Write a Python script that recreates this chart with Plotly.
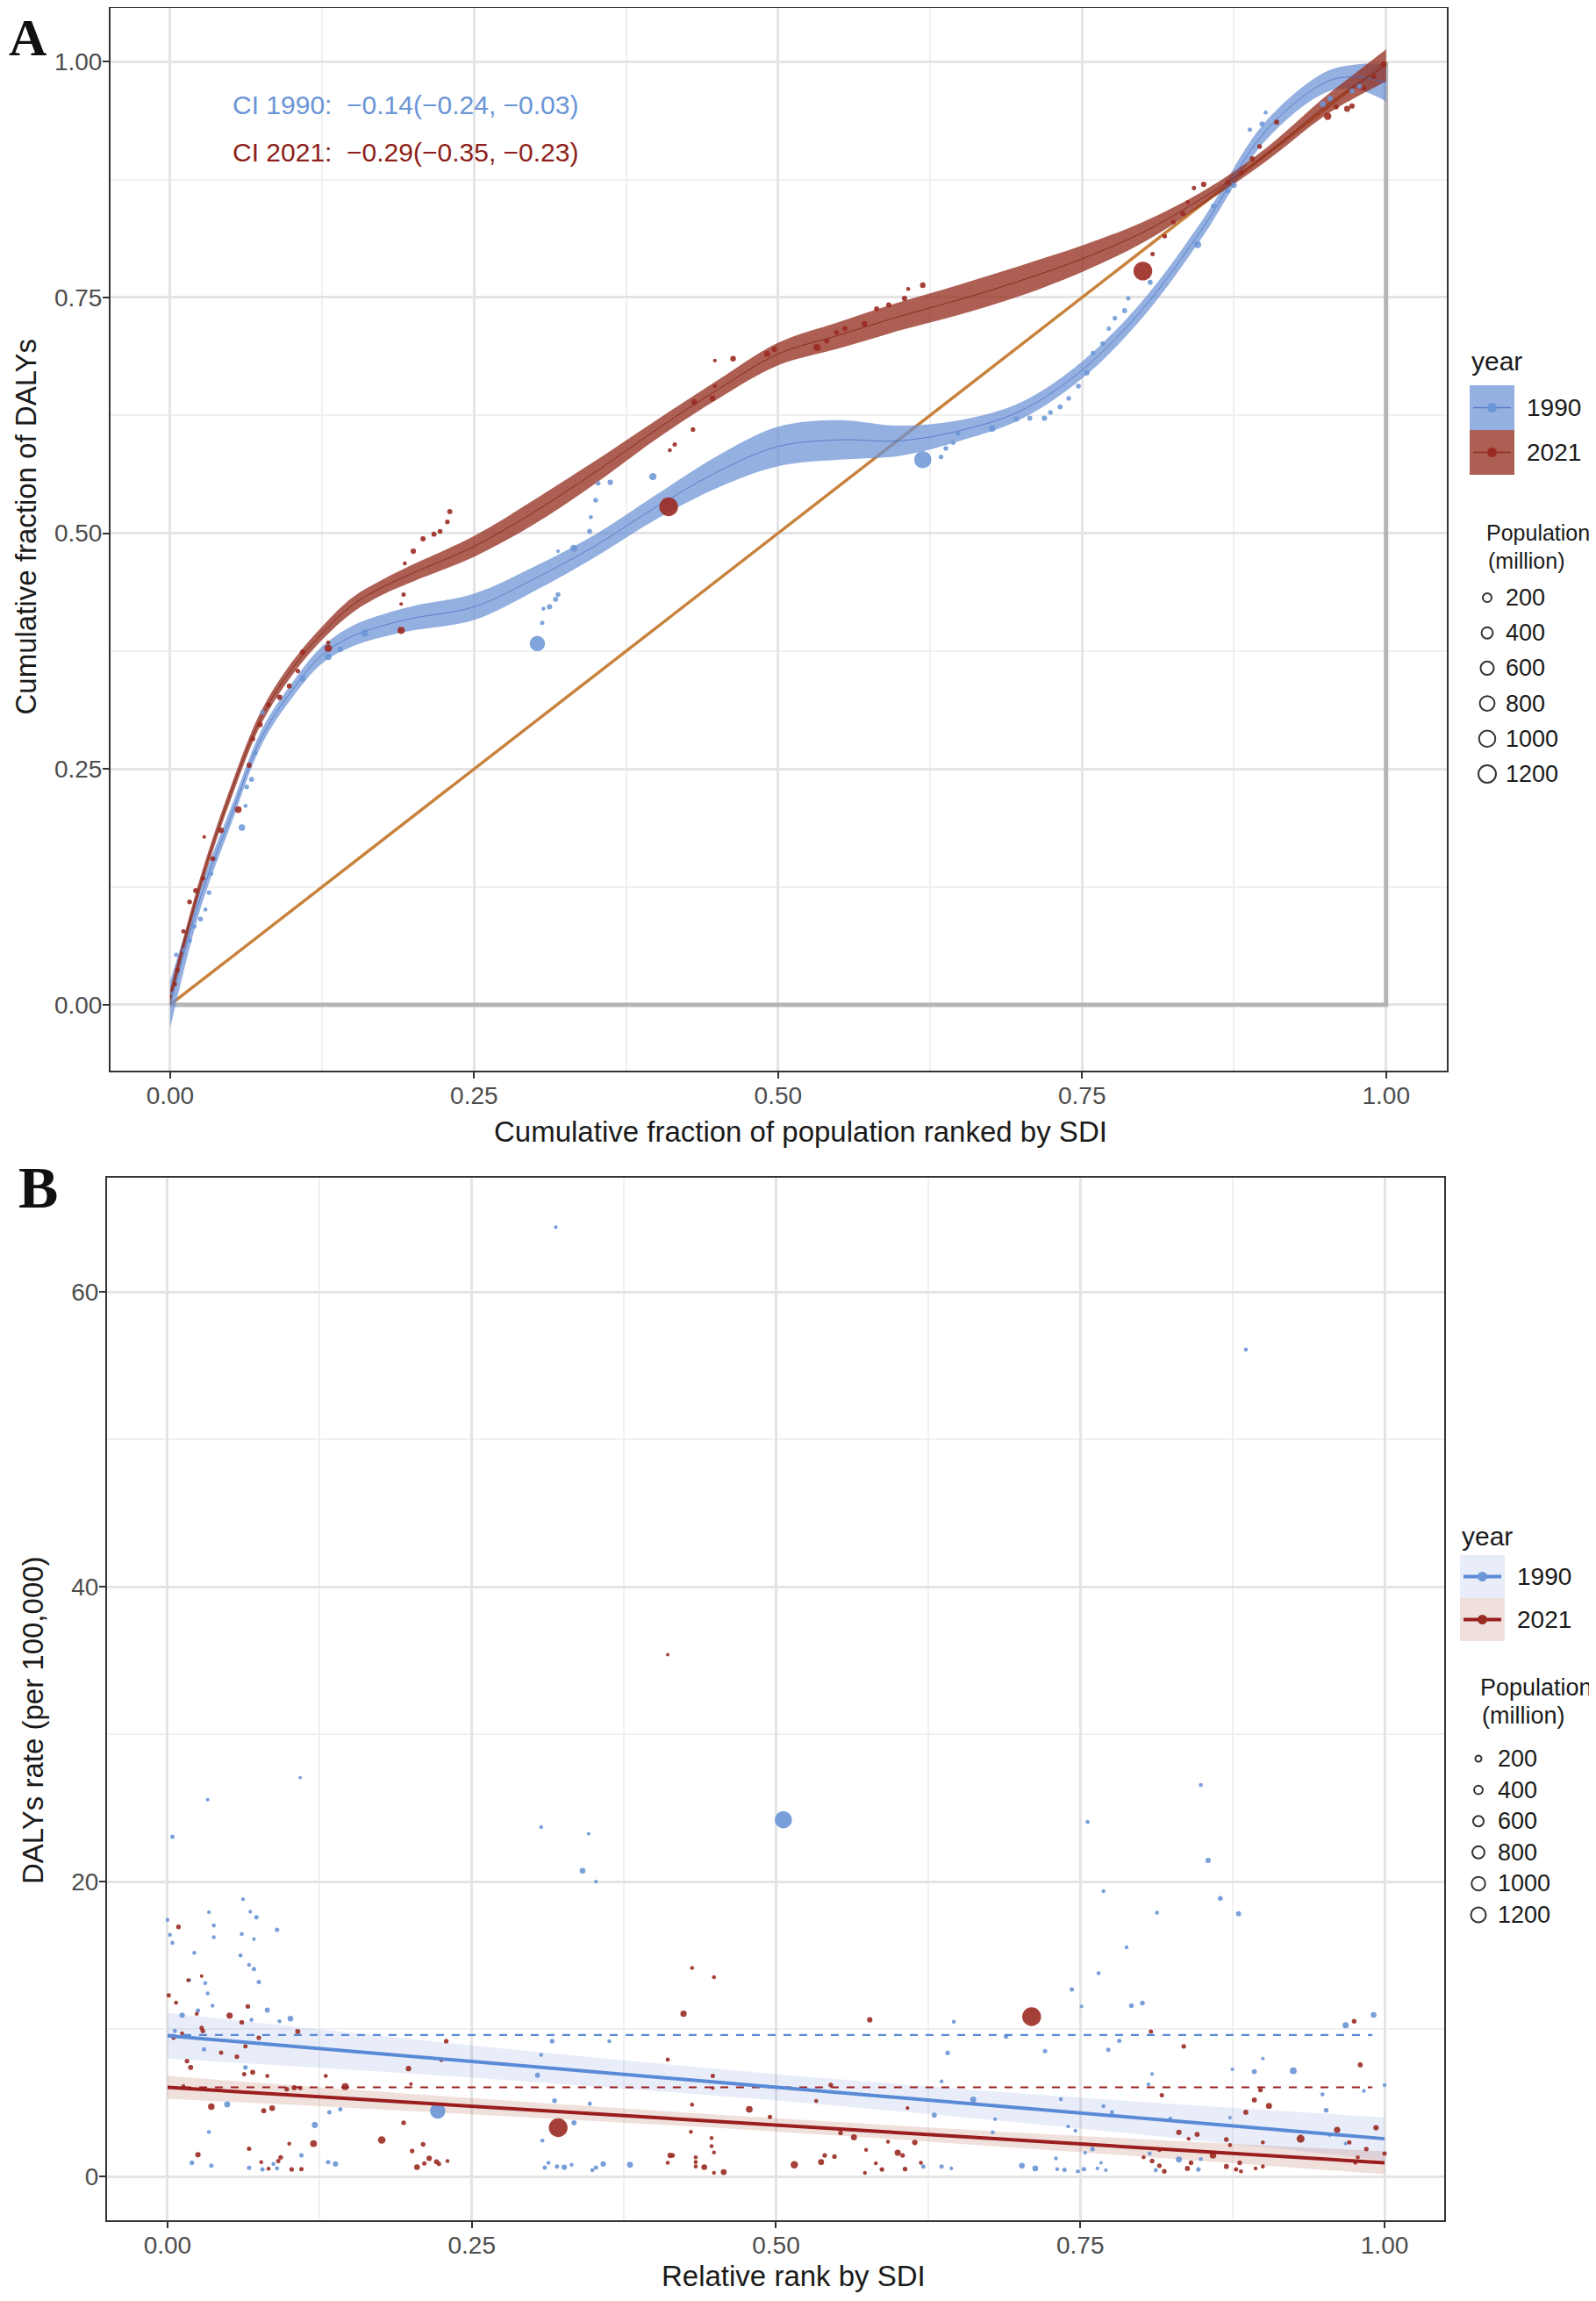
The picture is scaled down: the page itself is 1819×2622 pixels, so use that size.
import numpy as np
import plotly.graph_objects as go

W, H = 1819, 2622
OFF = 8  # page margin around the plot div
FW, FH = W - OFF, H - 2 * OFF

# ---------------- panel A: concentration curves ----------------
curve_x = [0, 0.025, 0.05, 0.075, 0.1, 0.125, 0.15, 0.175, 0.2, 0.25, 0.3, 0.35, 0.4,
           0.45, 0.5, 0.55, 0.6, 0.65, 0.7, 0.75, 0.8, 0.85, 0.9, 0.95, 0.975, 1.0]
fit_1990 = [0.0, 0.114, 0.20, 0.283, 0.333, 0.371, 0.391, 0.402, 0.41, 0.422, 0.452, 0.487, 0.528,
            0.565, 0.592, 0.599, 0.598, 0.609, 0.63, 0.673, 0.738, 0.825, 0.925, 0.978, 0.984, 0.978]
band_1990 = [0.025, 0.012, 0.009, 0.008, 0.008, 0.009, 0.011, 0.012, 0.013, 0.014, 0.013, 0.012, 0.013,
             0.017, 0.021, 0.021, 0.016, 0.011, 0.009, 0.009, 0.009, 0.009, 0.01, 0.011, 0.013, 0.02]
fit_2021 = [0.008, 0.129, 0.225, 0.305, 0.356, 0.394, 0.424, 0.443, 0.458, 0.486, 0.523, 0.565, 0.61,
            0.652, 0.69, 0.71, 0.73, 0.748, 0.768, 0.791, 0.819, 0.856, 0.9, 0.953, 0.975, 0.996]
band_2021 = [0.008, 0.007, 0.007, 0.007, 0.007, 0.007, 0.008, 0.008, 0.009, 0.011, 0.013, 0.012, 0.01,
             0.01, 0.012, 0.014, 0.015, 0.016, 0.016, 0.014, 0.011, 0.007, 0.007, 0.01, 0.013, 0.017]

equality_x = [0, 1]
equality_y = [0, 1]
frame_x = [0, 1, 1]
frame_y = [0, 0, 1]

a1990_x = [0.002, 0.005, 0.011, 0.016, 0.02, 0.025, 0.029, 0.032, 0.034, 0.037, 0.059, 0.062, 0.063,
           0.067, 0.07, 0.076, 0.109, 0.13, 0.14, 0.16, 0.302, 0.306, 0.307, 0.312, 0.317, 0.319,
           0.319, 0.332, 0.345, 0.346, 0.35, 0.352, 0.362, 0.397, 0.619, 0.634, 0.638, 0.644, 0.648,
           0.676, 0.696, 0.707, 0.719, 0.724, 0.732, 0.739, 0.747, 0.754, 0.759, 0.767, 0.772, 0.777,
           0.785, 0.788, 0.806, 0.845, 0.858, 0.87, 0.875, 0.888, 0.898, 0.901, 0.91, 0.948, 0.954,
           0.972, 0.978]
a1990_y = [0.012, 0.053, 0.058, 0.068, 0.083, 0.091, 0.101, 0.119, 0.139, 0.155, 0.188, 0.211, 0.231,
           0.239, 0.267, 0.31, 0.346, 0.369, 0.377, 0.394, 0.383, 0.405, 0.42, 0.422, 0.43, 0.435,
           0.481, 0.484, 0.502, 0.517, 0.535, 0.553, 0.554, 0.56, 0.578, 0.581, 0.59, 0.596, 0.606,
           0.611, 0.621, 0.622, 0.622, 0.628, 0.634, 0.643, 0.656, 0.67, 0.691, 0.701, 0.717, 0.728,
           0.736, 0.749, 0.766, 0.806, 0.847, 0.863, 0.869, 0.928, 0.934, 0.946, 0.936, 0.955, 0.961,
           0.969, 0.974]
a1990_pop = [10, 15, 10, 20, 15, 25, 10, 20, 10, 15, 80, 10, 20, 30, 15, 25, 60, 90, 40, 100, 870, 15,
             10, 35, 30, 25, 5, 100, 30, 10, 25, 20, 40, 120, 1150, 20, 25, 15, 20, 80, 35, 30, 40, 25,
             30, 20, 25, 30, 20, 25, 15, 20, 30, 15, 30, 110, 25, 30, 40, 15, 30, 10, 20, 60, 40, 30, 25]

a2021_x = [0.004, 0.006, 0.011, 0.016, 0.021, 0.027, 0.028, 0.035, 0.042, 0.056, 0.065, 0.068, 0.074,
           0.081, 0.09, 0.098, 0.105, 0.109, 0.13, 0.13, 0.19, 0.19, 0.192, 0.193, 0.2, 0.208, 0.217,
           0.222, 0.228, 0.23, 0.41, 0.411, 0.415, 0.43, 0.431, 0.446, 0.448, 0.448, 0.463, 0.491,
           0.497, 0.532, 0.54, 0.548, 0.555, 0.571, 0.581, 0.591, 0.604, 0.607, 0.619, 0.80, 0.808,
           0.818, 0.825, 0.833, 0.837, 0.842, 0.85, 0.87, 0.881, 0.89, 0.896, 0.91, 0.952, 0.959,
           0.968, 0.972, 0.982, 0.99, 0.998]
a2021_y = [0.022, 0.037, 0.078, 0.109, 0.121, 0.134, 0.178, 0.155, 0.185, 0.207, 0.254, 0.282, 0.297,
           0.318, 0.326, 0.338, 0.354, 0.374, 0.378, 0.384, 0.397, 0.425, 0.435, 0.468, 0.481, 0.494,
           0.499, 0.502, 0.512, 0.523, 0.528, 0.588, 0.594, 0.61, 0.639, 0.643, 0.656, 0.683, 0.685,
           0.69, 0.695, 0.697, 0.704, 0.713, 0.717, 0.722, 0.738, 0.742, 0.749, 0.759, 0.763, 0.778,
           0.796, 0.815, 0.83, 0.839, 0.851, 0.866, 0.87, 0.872, 0.882, 0.897, 0.91, 0.936, 0.942,
           0.952, 0.95, 0.953, 0.972, 0.984, 0.997]
a2021_pop = [10, 20, 15, 25, 30, 20, 5, 25, 40, 90, 30, 20, 35, 25, 40, 30, 20, 35, 130, 10, 110, 5, 15,
             10, 40, 35, 30, 25, 20, 30, 1400, 10, 15, 20, 60, 50, 10, 5, 45, 60, 40, 110, 30, 25, 30,
             50, 30, 35, 40, 10, 45, 1410, 15, 20, 25, 30, 10, 15, 40, 30, 25, 35, 20, 30, 120, 30, 60,
             40, 20, 30, 60]

# ---------------- panel B: DALYs rate vs relative SDI rank ----------------
b1990_x = [0.319, 0.886, 0.004, 0.033, 0.109, 0.307, 0.346, 0.341, 0.352, 0.506, 0.849, 0.756, 0.855,
           0.769, 0.865, 0.88, 0.813, 0.788, 0.765, 0.743, 0.751, 0.792, 0.801, 0.646, 0.968, 0.991,
           0.689, 0.782, 0.721, 0.773, 0.641, 0.925, 0.893, 0.9, 0.875, 1.0, 0.983, 0.809, 0.806,
           0.636, 0.949, 0.662, 0.734, 0.952, 0.769, 0.776, 0.63, 0.68, 0.824, 0.873, 0.678, 0.74,
           0.746, 0.76, 0.807, 0.831, 0.849, 0.812, 0.847, 0.955, 0.968, 0.702, 0.713, 0.73, 0.731,
           0.737, 0.748, 0.753, 0.764, 0.771, 0.754, 0.767, 0.621, 0.636, 0.644,
           0.0, 0.002, 0.004, 0.022, 0.034, 0.038, 0.038, 0.062, 0.068, 0.073, 0.061, 0.071, 0.09,
           0.06, 0.067, 0.071, 0.018, 0.031, 0.075, 0.033, 0.037, 0.025, 0.012, 0.082, 0.069, 0.092,
           0.101, 0.006, 0.03, 0.064, 0.316, 0.363, 0.307, 0.304, 0.318, 0.347, 0.049, 0.142, 0.133,
           0.222, 0.121, 0.334, 0.034, 0.308, 0.02, 0.036, 0.067, 0.078, 0.087, 0.09, 0.11, 0.132,
           0.138, 0.31, 0.313, 0.32, 0.326, 0.332, 0.349, 0.352, 0.358, 0.38]
b1990_y = [64.4, 56.1, 23.05, 25.56, 27.06, 23.7, 23.25, 20.74, 20.0, 24.2, 26.56, 24.05, 21.44, 19.36,
           18.86, 17.83, 17.9, 15.55, 13.79, 12.69, 11.54, 11.59, 11.76, 10.5, 10.26, 10.96, 9.5, 9.2,
           8.5, 8.6, 8.38, 7.17, 7.12, 8.0, 7.27, 6.2, 5.8, 6.95, 6.25, 6.45, 5.57, 5.22, 5.24, 4.49,
           4.77, 4.36, 4.16, 3.89, 3.94, 3.99, 3.0, 3.39, 3.11, 1.86, 1.56, 1.15, 1.18, 0.43, 0.48,
           2.81, 2.23, 0.73, 0.55, 1.23, 0.5, 0.45, 0.35, 0.5, 0.55, 0.43, 1.61, 0.93, 0.68, 0.68, 0.55,
           17.4, 16.4, 15.85, 15.17, 17.93, 17.03, 16.23, 18.81, 17.96, 17.58, 16.45, 16.1, 16.73,
           15.0, 14.35, 14.07, 13.32, 13.12, 13.19, 12.42, 11.59, 11.26, 10.94, 11.29, 10.63, 10.53,
           10.71, 9.88, 8.63, 7.4, 9.18, 9.18, 8.25, 6.87, 5.14, 4.94, 4.89, 4.56, 4.36, 4.44, 3.49,
           3.64, 3.01, 2.43, 0.93, 0.73, 0.58, 0.48, 0.85, 0.55, 1.43, 0.98, 0.85, 0.6, 0.93, 0.68,
           0.63, 0.8, 0.43, 0.6, 0.85, 0.8]
b1990_pop = [5, 10, 15, 5, 3, 8, 5, 50, 5, 1150, 8, 10, 35, 8, 25, 30, 10, 8, 10, 15, 5, 25, 25, 10, 70,
             50, 20, 15, 15, 15, 20, 90, 30, 5, 5, 8, 5, 5, 5, 8, 10, 60, 10, 20, 10, 10, 30, 5, 5, 5,
             8, 5, 8, 20, 10, 60, 10, 10, 20, 5, 5, 50, 50, 8, 8, 15, 10, 15, 5, 5, 5, 5, 15, 15, 5,
             8, 8, 10, 8, 5, 10, 8, 5, 5, 15, 10, 5, 15, 10, 8, 15, 5, 10, 15, 8, 8, 15, 40, 30, 10, 8,
             50, 10, 15, 20, 20, 8, 8, 30, 25, 10, 60, 15, 15, 870, 60, 30, 8, 10, 20, 15, 15, 15, 10,
             10, 15, 15, 40, 15, 10, 15, 40, 8, 10, 15, 40, 60]

b2021_x = [0.411, 0.009, 0.001, 0.007, 0.017, 0.028, 0.024, 0.005, 0.012, 0.028, 0.029, 0.051, 0.066,
           0.061, 0.075, 0.064, 0.107, 0.044, 0.057, 0.016, 0.019, 0.07, 0.063, 0.082, 0.13, 0.146,
           0.098, 0.104, 0.109, 0.013, 0.036, 0.086, 0.079, 0.198, 0.225, 0.229, 0.2, 0.194, 0.176,
           0.12, 0.1, 0.21, 0.201, 0.215, 0.221, 0.223, 0.23, 0.205, 0.211, 0.025, 0.067, 0.093, 0.091,
           0.077, 0.083, 0.102, 0.11, 0.321, 0.424, 0.431, 0.449, 0.411, 0.448, 0.448, 0.431, 0.478,
           0.495, 0.43, 0.447, 0.447, 0.449, 0.413, 0.415, 0.411, 0.434, 0.434, 0.441, 0.457, 0.449,
           0.434,
           0.71, 0.577, 0.975, 0.808, 0.835, 0.98, 0.545, 0.898, 0.817, 0.893, 0.905, 0.886, 0.533,
           0.608, 0.961, 0.993, 0.931, 0.831, 0.846, 0.564, 0.553, 0.614, 0.592, 0.87, 0.873, 0.9,
           0.971, 0.985, 1.0, 0.839, 0.815, 0.6, 0.604, 0.574, 0.548, 0.54, 0.537, 0.515, 0.859, 0.802,
           0.809, 0.815, 0.819, 0.838, 0.841, 0.87, 0.878, 0.881, 0.894, 0.9, 0.882, 0.976, 0.587,
           0.573, 0.582, 0.606, 0.619, 0.978]
b2021_y = [35.4, 16.93, 12.29, 11.79, 13.32, 13.59, 11.04, 9.41, 9.71, 10.08, 9.88, 10.91, 11.54, 10.46,
           9.41, 8.83, 9.83, 8.4, 8.13, 7.83, 7.4, 7.07, 6.95, 6.82, 6.82, 6.09, 5.92, 6.02, 6.0, 6.12,
           4.74, 4.64, 4.46, 7.32, 7.9, 9.18, 6.27, 3.64, 2.48, 2.23, 2.23, 2.18, 1.73, 1.23, 1.0, 0.85,
           1.05, 0.63, 0.88, 1.48, 1.88, 1.3, 1.05, 0.98, 0.53, 0.48, 0.5, 3.31, 11.04, 14.15, 13.52,
           7.93, 6.82, 6.0, 4.87, 4.56, 4.04, 3.03, 2.61, 2.06, 1.63, 1.43, 1.43, 0.93, 1.3, 0.98, 0.63,
           0.3, 0.25, 0.68,
           10.84, 10.63, 10.53, 9.83, 8.83, 7.57, 6.2, 5.87, 5.52, 5.19, 4.79, 4.36, 5.12, 4.64, 3.16,
           3.31, 2.56, 3.0, 2.86, 2.66, 2.96, 2.31, 2.36, 2.51, 2.13, 2.31, 2.31, 1.86, 1.56, 2.56,
           1.81, 1.61, 1.43, 1.81, 1.35, 1.43, 0.98, 0.8, 1.43, 1.3, 1.05, 0.73, 0.35, 0.55, 0.93,
           0.68, 0.48, 0.93, 0.55, 0.68, 0.35, 0.93, 0.48, 0.25, 0.9, 0.5, 0.93, 1.3]
b2021_pop = [3, 20, 15, 10, 8, 5, 8, 15, 10, 15, 20, 70, 20, 20, 20, 15, 30, 15, 20, 20, 30, 30, 15, 10,
             10, 100, 20, 30, 15, 10, 80, 50, 30, 40, 10, 20, 5, 20, 130, 90, 8, 20, 20, 40, 30, 15, 8,
             50, 15, 40, 15, 20, 15, 8, 10, 20, 15, 1400, 70, 8, 10, 10, 15, 5, 10, 90, 15, 8, 8, 8, 8,
             40, 20, 10, 10, 10, 50, 60, 8, 10,
             1410, 40, 20, 15, 20, 30, 20, 20, 15, 30, 60, 30, 10, 5, 70, 40, 150, 40, 30, 60, 20, 40,
             8, 20, 10, 8, 15, 20, 15, 8, 15, 70, 20, 8, 20, 20, 60, 120, 80, 8, 20, 20, 20, 30, 20, 30,
             15, 20, 8, 10, 10, 8, 20, 8, 8, 20, 8, 8]

fit_x = [0, 0.25, 0.5, 0.75, 1.0]
lm_1990 = [9.55, 7.8, 6.05, 4.3, 2.56]
lm_band_1990 = [1.55, 1.1, 0.9, 1.05, 1.45]
lm_2021 = [6.05, 4.77, 3.5, 2.2, 0.93]
lm_band_2021 = [0.77, 0.55, 0.45, 0.55, 0.78]
mean_x = [0, 0.99]
mean_1990 = [9.6, 9.6]
mean_2021 = [6.05, 6.05]

legend_pops = [200, 400, 600, 800, 1000, 1200]

BLUE_PT = "#6A95D6"
RED_PT = "#9B2B22"
FONT = "Liberation Sans"


def pop_size(p):
    return 3.1 + 0.488 * np.sqrt(np.asarray(p, dtype=float))


def band(xs, fit, hw, xa, ya, color):
    lo = [f - h for f, h in zip(fit, hw)]
    hi = [f + h for f, h in zip(fit, hw)]
    t1 = go.Scatter(x=xs, y=lo, mode="lines", line=dict(width=0, shape="spline"),
                    xaxis=xa, yaxis=ya, hoverinfo="skip")
    t2 = go.Scatter(x=xs, y=hi, mode="lines", line=dict(width=0, shape="spline"),
                    fill="tonexty", fillcolor=color, xaxis=xa, yaxis=ya, hoverinfo="skip")
    return [t1, t2]


def points(xs, ys, pops, color, xa, ya, opacity):
    return go.Scatter(x=xs, y=ys, mode="markers", xaxis=xa, yaxis=ya,
                      marker=dict(size=pop_size(pops), color=color, opacity=opacity,
                                  line=dict(width=0)))


fig = go.Figure()

# panel A
fig.add_trace(go.Scatter(x=frame_x, y=frame_y, mode="lines", line=dict(color="#B5B5B5", width=5),
                         xaxis="x", yaxis="y"))
fig.add_trace(go.Scatter(x=equality_x, y=equality_y, mode="lines",
                         line=dict(color="#C8823C", width=3.5), xaxis="x", yaxis="y"))
for t in band(curve_x, fit_1990, band_1990, "x", "y", "rgba(107,146,214,0.72)"):
    fig.add_trace(t)
for t in band(curve_x, fit_2021, band_2021, "x", "y", "rgba(150,50,35,0.78)"):
    fig.add_trace(t)
fig.add_trace(go.Scatter(x=curve_x, y=fit_1990, mode="lines", xaxis="x", yaxis="y",
                         line=dict(color="rgba(75,115,195,0.8)", width=1, shape="spline")))
fig.add_trace(go.Scatter(x=curve_x, y=fit_2021, mode="lines", xaxis="x", yaxis="y",
                         line=dict(color="rgba(130,30,20,0.8)", width=1, shape="spline")))
fig.add_trace(points(a1990_x, a1990_y, a1990_pop, BLUE_PT, "x", "y", 0.85))
fig.add_trace(points(a2021_x, a2021_y, a2021_pop, RED_PT, "x", "y", 0.9))

# panel B
for t in band(fit_x, lm_1990, lm_band_1990, "x2", "y2", "rgba(90,130,214,0.14)"):
    fig.add_trace(t)
for t in band(fit_x, lm_2021, lm_band_2021, "x2", "y2", "rgba(165,70,50,0.17)"):
    fig.add_trace(t)
fig.add_trace(points(b1990_x, b1990_y, b1990_pop, BLUE_PT, "x2", "y2", 0.9))
fig.add_trace(points(b2021_x, b2021_y, b2021_pop, RED_PT, "x2", "y2", 0.9))
fig.add_trace(go.Scatter(x=mean_x, y=mean_1990, mode="lines", xaxis="x2", yaxis="y2",
                         line=dict(color="#5A8AD6", width=2.2, dash="dash")))
fig.add_trace(go.Scatter(x=mean_x, y=mean_2021, mode="lines", xaxis="x2", yaxis="y2",
                         line=dict(color="#9A1E1E", width=2.2, dash="dash")))
fig.add_trace(go.Scatter(x=fit_x, y=lm_1990, mode="lines", xaxis="x2", yaxis="y2",
                         line=dict(color="#5A8AD6", width=4)))
fig.add_trace(go.Scatter(x=fit_x, y=lm_2021, mode="lines", xaxis="x2", yaxis="y2",
                         line=dict(color="#9A1E1E", width=4)))


def axis_style(domain, rng, dtick, fmt, anchor):
    return dict(domain=domain, range=rng, anchor=anchor, tickmode="linear", tick0=0, dtick=dtick,
                tickformat=fmt, showgrid=True, gridcolor="#E4E4E4", gridwidth=3,
                minor=dict(dtick=dtick / 2, showgrid=True, gridcolor="#F0F0F0", gridwidth=1.5),
                showline=True, mirror=True, linecolor="#333333", linewidth=2, zeroline=False,
                ticks="outside", ticklen=7, tickwidth=2, tickcolor="#333333", ticklabelstandoff=-5,
                tickfont=dict(family=FONT, size=28, color="#4D4D4D"))


# target positions are measured in page pixels; the plot div sits OFF px from the corner
def px_x(p):
    return (p - OFF) / FW


def px_y(p):
    return 1 - (p - OFF) / FH


fig.update_layout(
    width=FW, height=FH, margin=dict(l=0, r=0, t=0, b=0),
    paper_bgcolor="white", plot_bgcolor="white", showlegend=False,
    xaxis=axis_style([px_x(126), px_x(1649)], [-0.049, 1.05], 0.25, ".2f", "y"),
    yaxis=axis_style([px_y(1220), px_y(OFF + 1)], [-0.0698, 1.057], 0.25, ".2f", "x"),
    xaxis2=axis_style([px_x(122), px_x(1646)], [-0.0497, 1.049], 0.25, ".2f", "y2"),
    yaxis2=axis_style([px_y(2530), px_y(1342)], [-2.97, 67.76], 20, "d", "x2"),
)

ann = []


def text(x, y, s, size, color="#1A1A1A", xanchor="left", angle=0, family=FONT, xref="paper",
         yref="paper", yanchor="middle"):
    if xref == "paper":
        x = px_x(x)
    if yref == "paper":
        y = px_y(y)
    ann.append(dict(x=x, y=y, xref=xref, yref=yref, text=s, showarrow=False, xanchor=xanchor,
                    yanchor=yanchor, textangle=angle, font=dict(family=family, size=size,
                                                                color=color)))


# panel labels
text(OFF, OFF, "<b>A</b>", 60, "#111111", "left", family="Liberation Serif", yanchor="top")
text(43, 1353, "<b>B</b>", 68, "#111111", "center", family="Liberation Serif")

# axis titles
text(912, 1290, "Cumulative fraction of population ranked by SDI", 33, xanchor="center")
text(OFF, 600, "Cumulative fraction of DALYs", 33, xanchor="left", angle=-90)
text(904, 2593, "Relative rank by SDI", 33, xanchor="center")
text(37, 1960, "DALYs rate (per 100,000)", 33, xanchor="center", angle=-90)

# CI labels
text(0.05, 0.954, "CI 1990:  \u22120.14(\u22120.24, \u22120.03)", 30, "#6A95D6", xref="x", yref="y")
text(0.05, 0.904, "CI 2021:  \u22120.29(\u22120.35, \u22120.23)", 30, "#8E1F1A", xref="x", yref="y")

shapes = []


def rect(x0, y0, x1, y1, fill):
    shapes.append(dict(type="rect", xref="paper", yref="paper", x0=px_x(x0), x1=px_x(x1),
                       y0=px_y(y1), y1=px_y(y0), fillcolor=fill, line=dict(width=0), layer="above"))


def hline(x0, x1, y, color, width):
    shapes.append(dict(type="line", xref="paper", yref="paper", x0=px_x(x0), x1=px_x(x1),
                       y0=px_y(y), y1=px_y(y), line=dict(color=color, width=width), layer="above"))


def circle(cx, cy, d, fill, outline=None):
    shapes.append(dict(type="circle", xref="paper", yref="paper", x0=px_x(cx - d / 2),
                       x1=px_x(cx + d / 2), y0=px_y(cy + d / 2), y1=px_y(cy - d / 2),
                       fillcolor=fill,
                       line=dict(color=outline or fill, width=2 if outline else 0), layer="above"))


def legend(left, title_y, key_top, key_w, key_h, fills, lines, line_w, text_x,
           pop_x, pop_title_y, pop_font, circle_x, circle_y0, circle_dy, circle_shrink, num_x):
    text(left, title_y, "year", 30)
    for i, (lab, fill, lc, pc) in enumerate(zip(["1990", "2021"], fills, lines, [BLUE_PT, RED_PT])):
        top = key_top + i * key_h
        rect(left, top, left + key_w, top + key_h, fill)
        cy = top + key_h / 2
        hline(left + 4, left + key_w - 4, cy, lc, line_w)
        circle(left + key_w / 2, cy, 11, pc)
        text(text_x, cy, lab, 28)
    text(pop_x, pop_title_y, "Population", pop_font)
    text(pop_x + 2, pop_title_y + 32, "(million)", pop_font)
    for i, p in enumerate(legend_pops):
        cy = circle_y0 + i * circle_dy
        circle(circle_x, cy, float(pop_size(p)) - circle_shrink, "rgba(0,0,0,0)", "#333333")
        text(num_x, cy, str(p), 27)


legend(1675, 411, 439, 51, 51, ["rgba(107,146,214,0.72)", "rgba(150,50,35,0.78)"],
       ["rgba(75,115,195,0.8)", "rgba(130,30,20,0.8)"], 1.5, 1738,
       1692, 607, 25, 1695, 681, 40.2, 0, 1714)
legend(1664, 1750, 1772, 51, 49, ["rgba(90,130,214,0.14)", "rgba(165,70,50,0.17)"],
       ["#5A8AD6", "#9A1E1E"], 4, 1727,
       1685, 1923, 27, 1685, 2004, 35.6, 3, 1705)

fig.update_layout(annotations=ann, shapes=shapes)
fig.write_html("out.html")
